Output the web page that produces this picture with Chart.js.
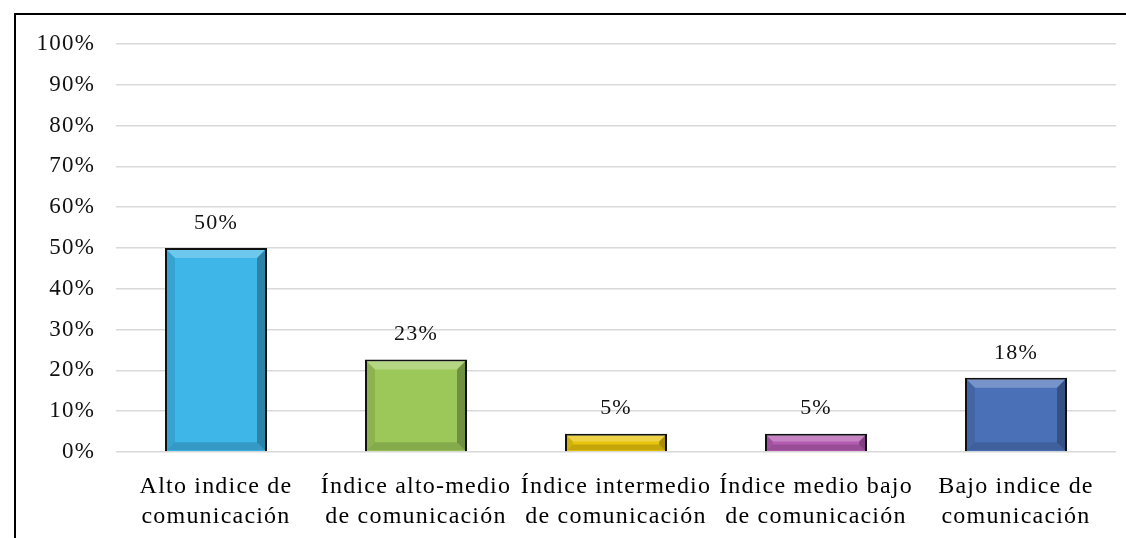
<!DOCTYPE html>
<html>
<head>
<meta charset="utf-8">
<script src="https://cdn.jsdelivr.net/npm/chart.js@4.4.0/dist/chart.umd.min.js"></script>
<style>
  body { margin: 0; background: #fff; }
  #wrap { width: 1126px; height: 538px; }
</style>
</head>
<body>
<div id="wrap"><canvas id="barChart" width="1126" height="538"></canvas></div>
<script>
var categories = [
    ['Alto indice de', 'comunicación'],
    ['Índice alto-medio', 'de comunicación'],
    ['Índice intermedio', 'de comunicación'],
    ['Índice medio bajo', 'de comunicación'],
    ['Bajo indice de', 'comunicación']
];
var percentages = [50, 22.7, 4.5, 4.5, 18.2];
var barColors = ['#3eb6e8', '#9cc85a', '#e8c40c', '#b45bb2', '#4a71b8'];
var yTicks = [0, 10, 20, 30, 40, 50, 60, 70, 80, 90, 100];

var serif = '"Liberation Serif", "Times New Roman", serif';

// the original text is a bit stretched, so widen it a little
function widen(chart) {
    chart.ctx.letterSpacing = '1.2px';
}

// frame line at top and left, like the pasted picture
var framePlugin = {
    id: 'frame',
    beforeLayout: widen,
    beforeDraw: function (chart) {
        widen(chart);
        var c = chart.ctx;
        c.save();
        c.fillStyle = '#fff';
        c.fillRect(0, 0, chart.width, chart.height);
        c.strokeStyle = '#000';
        c.lineWidth = 2;
        c.beginPath();
        c.moveTo(15, 538);
        c.lineTo(15, 14);
        c.lineTo(1126, 14);
        c.stroke();
        c.restore();
    }
};

// soft bevel on each bar plus the value on top
var bevelPlugin = {
    id: 'bevel',
    afterDatasetsDraw: function (chart) {
        var c = chart.ctx;
        var meta = chart.getDatasetMeta(0);
        meta.data.forEach(function (bar, i) {
            var l = bar.x - bar.width / 2 + 2, r = bar.x + bar.width / 2 - 2;
            var t = bar.y + 2, b = bar.base - 1;
            var h = b - t;
            var s = Math.min(8, h / 2.5);
            c.save();
            c.fillStyle = 'rgba(255,255,255,0.25)';
            c.beginPath();
            c.moveTo(l, t); c.lineTo(r, t); c.lineTo(r - s, t + s); c.lineTo(l + s, t + s);
            c.fill();
            c.fillStyle = 'rgba(0,0,0,0.28)';
            c.beginPath();
            c.moveTo(r, t); c.lineTo(r, b); c.lineTo(r - s, b - s); c.lineTo(r - s, t + s);
            c.fill();
            c.fillStyle = 'rgba(0,0,0,0.15)';
            c.beginPath();
            c.moveTo(l, b); c.lineTo(r, b); c.lineTo(r - s, b - s); c.lineTo(l + s, b - s);
            c.fill();
            c.fillStyle = 'rgba(0,0,0,0.1)';
            c.beginPath();
            c.moveTo(l, t); c.lineTo(l, b); c.lineTo(l + s, b - s); c.lineTo(l + s, t + s);
            c.fill();

            c.fillStyle = '#111';
            c.font = '22px ' + serif;
            c.textAlign = 'center';
            c.textBaseline = 'middle';
            c.fillText(Math.round(percentages[i]) + '%', bar.x, bar.y - 25);
            c.restore();
        });
    }
};

var ctx = document.getElementById('barChart').getContext('2d');
var myChart = new Chart(ctx, {
    type: 'bar',
    data: {
        labels: categories,
        datasets: [{
            data: percentages,
            backgroundColor: barColors,
            borderColor: '#111',
            borderWidth: 2,
            categoryPercentage: 1,
            barPercentage: 0.51
        }]
    },
    options: {
        responsive: false,
        animation: false,
        layout: { padding: { top: 44, left: 20, right: 10, bottom: 0 } },
        plugins: {
            legend: { display: false },
            tooltip: { enabled: false }
        },
        scales: {
            y: {
                min: 0,
                max: 100,
                afterBuildTicks: function (axis) {
                    axis.ticks = yTicks.map(function (v) { return { value: v }; });
                },
                afterFit: function (axis) { axis.width = 96; },
                grid: { color: '#d9d9d9', lineWidth: 1.5, drawTicks: false },
                border: { display: false },
                ticks: {
                    padding: 21,
                    color: '#111',
                    font: { family: serif, size: 23 },
                    callback: function (v) { return v + '%'; }
                }
            },
            x: {
                afterFit: function (axis) { axis.height = 86; },
                grid: { display: false },
                border: { display: false },
                ticks: {
                    padding: 12,
                    color: '#000',
                    font: { family: serif, size: 24, lineHeight: 1.25 },
                    maxRotation: 0,
                    autoSkip: false
                }
            }
        }
    },
    plugins: [framePlugin, bevelPlugin]
});
</script>
</body>
</html>
